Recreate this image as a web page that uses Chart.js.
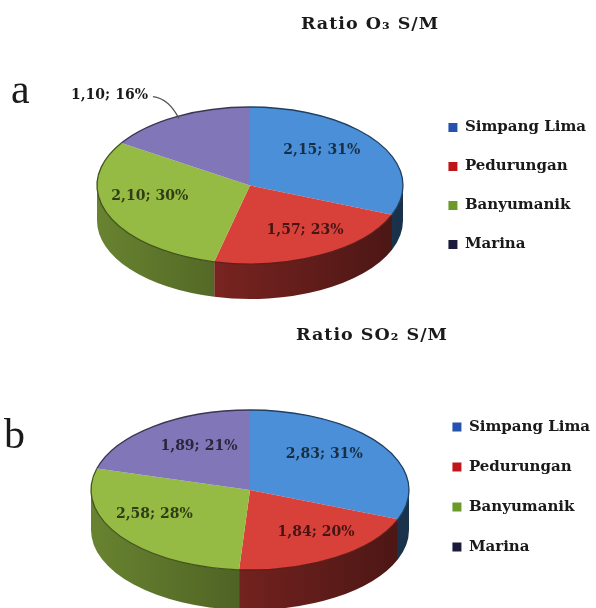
<!DOCTYPE html>
<html>
<head>
<meta charset="utf-8">
<script src="https://cdn.jsdelivr.net/npm/chart.js@4.4.1/dist/chart.umd.min.js"></script>
<style>
  html, body { margin: 0; padding: 0; background: #fff; width: 596px; height: 608px; overflow: hidden; }
  .panel { position: absolute; left: 0; width: 596px; }
  #panelA { top: 0; height: 305px; }
  #panelB { top: 305px; height: 303px; }
</style>
</head>
<body>
<div class="panel" id="panelA"><canvas id="chartA"></canvas></div>
<div class="panel" id="panelB"><canvas id="chartB"></canvas></div>
<script>
// Sampling sites and S/M ratios for each pollutant
const stations = ['Simpang Lima', 'Pedurungan', 'Banyumanik', 'Marina'];
const ratioO3 = [2.15, 1.57, 2.10, 1.10];
const ratioSO2 = [2.83, 1.84, 2.58, 1.89];

const sliceColors = ['#4a8fd8', '#d8403a', '#95bb44', '#8177b8'];
const legendColors = ['#2552ae', '#c0161a', '#6c9a28', '#1c1a3c'];

const SERIF = '"DejaVu Serif", "Liberation Serif", serif';

function rgbOf(hex) {
  const n = parseInt(hex.slice(1), 16);
  return [(n >> 16) & 255, (n >> 8) & 255, n & 255];
}
function shade(hex, f) {
  const [r, g, b] = rgbOf(hex);
  return `rgb(${Math.round(r * f)},${Math.round(g * f)},${Math.round(b * f)})`;
}
function fmt(v, total) {
  return v.toFixed(2).replace('.', ',') + '; ' + Math.round(v / total * 100) + '%';
}

// Tilted pie: walls drawn under the slices, slices squashed into an ellipse,
// then rim, value labels, title and panel letter drawn on top.
const pie3d = {
  id: 'pie3d',
  beforeDatasetsDraw(chart, args, o) {
    const ctx = chart.ctx;
    const arcs = chart.getDatasetMeta(0).data;
    const colors = chart.data.datasets[0].backgroundColor;
    const { tx, ty, rx, ry, depth } = o;

    arcs.forEach((arc, i) => {
      const s = Math.max(arc.startAngle, 0);
      const e = Math.min(arc.endAngle, Math.PI);
      if (e <= s) return;
      const g = ctx.createLinearGradient(tx - rx, 0, tx + rx, 0);
      g.addColorStop(0, shade(colors[i], 0.7));
      g.addColorStop(0.5, shade(colors[i], 0.52));
      g.addColorStop(1, shade(colors[i], 0.34));
      ctx.beginPath();
      ctx.ellipse(tx, ty, rx, ry, 0, s, e, false);
      ctx.lineTo(tx + rx * Math.cos(e), ty + depth + ry * Math.sin(e));
      ctx.ellipse(tx, ty + depth, rx, ry, 0, e, s, true);
      ctx.closePath();
      ctx.fillStyle = g;
      ctx.fill();
    });

    const { x: cx, y: cy, outerRadius: R } = arcs[0];
    ctx.save();
    ctx.translate(tx, ty);
    ctx.scale(rx / R, ry / R);
    ctx.translate(-cx, -cy);
  },
  afterDatasetsDraw(chart, args, o) {
    const ctx = chart.ctx;
    ctx.restore();
    const arcs = chart.getDatasetMeta(0).data;
    const ds = chart.data.datasets[0];
    const colors = ds.backgroundColor;
    const total = ds.data.reduce((a, b) => a + b, 0);
    const { tx, ty, rx, ry } = o;

    // rim of the top face
    arcs.forEach((arc, i) => {
      ctx.beginPath();
      ctx.ellipse(tx, ty, rx, ry, 0, arc.startAngle, arc.endAngle, false);
      ctx.strokeStyle = shade(colors[i], 0.45);
      ctx.lineWidth = 1.3;
      ctx.stroke();
    });

    // value labels; labels in the near half sit a little further out (perspective)
    ctx.font = 'bold 14px ' + SERIF;
    ctx.textBaseline = 'middle';
    arcs.forEach((arc, i) => {
      const mid = (arc.startAngle + arc.endAngle) / 2;
      const txt = fmt(ds.data[i], total);
      if ((o.outside || []).includes(i)) {
        const ex = tx + 0.97 * rx * Math.cos(mid), ey = ty + 0.97 * ry * Math.sin(mid);
        const lx = ex - 26, ly = ey - 22;
        ctx.beginPath();
        ctx.moveTo(ex, ey);
        ctx.quadraticCurveTo(ex - 10, ly + 2, lx, ly);
        ctx.strokeStyle = '#555';
        ctx.lineWidth = 1.3;
        ctx.stroke();
        ctx.fillStyle = '#1a1a1a';
        ctx.textAlign = 'right';
        ctx.fillText(txt, lx - 5, ly - 1);
      } else {
        const k = 0.65 + 0.15 * Math.sin(mid);
        ctx.fillStyle = shade(colors[i], 0.32);
        ctx.textAlign = 'center';
        ctx.fillText(txt, tx + k * rx * Math.cos(mid), ty - 10 + k * ry * Math.sin(mid));
      }
    });
  },
  afterDraw(chart, args, o) {
    const ctx = chart.ctx;
    ctx.save();
    ctx.fillStyle = '#1a1a1a';
    ctx.textBaseline = 'alphabetic';
    ctx.textAlign = 'center';
    ctx.font = 'bold 17.5px ' + SERIF;
    ctx.letterSpacing = '1px';
    ctx.fillText(o.title, o.titleX, o.titleY);
    ctx.letterSpacing = '0px';
    ctx.textAlign = 'left';
    ctx.font = '42px "Liberation Serif", serif';
    ctx.fillText(o.letter, o.letterX, o.letterY);
    ctx.restore();
  }
};

function legendLabels(chart) {
  const items = Chart.overrides.pie.plugins.legend.labels.generateLabels(chart);
  items.forEach((it, i) => {
    it.fillStyle = legendColors[i];
    it.strokeStyle = legendColors[i];
    it.lineWidth = 0;
  });
  return items;
}

function makePie(id, values, padding, spacing, shape) {
  return new Chart(document.getElementById(id), {
    type: 'pie',
    data: {
      labels: stations,
      datasets: [{ data: values, backgroundColor: sliceColors, borderWidth: 0, clip: false }]
    },
    options: {
      responsive: true,
      maintainAspectRatio: false,
      animation: false,
      layout: { padding },
      plugins: {
        tooltip: { enabled: false },
        legend: {
          position: 'right',
          labels: {
            boxWidth: 9,
            boxHeight: 9,
            padding: spacing,
            color: '#1a1a1a',
            font: { family: SERIF, size: 15, weight: 'bold' },
            generateLabels: legendLabels
          }
        },
        pie3d: shape
      }
    },
    plugins: [pie3d]
  });
}

makePie('chartA', ratioO3, { top: 77, bottom: 10, left: 0, right: 0 }, 24, {
  tx: 250, ty: 185.5, rx: 153, ry: 78.5, depth: 35, outside: [3],
  title: 'Ratio O\u2083 S/M', titleX: 370, titleY: 29,
  letter: 'a', letterX: 11, letterY: 103
});

makePie('chartB', ratioSO2, { top: 71, bottom: 10, left: 0, right: -4 }, 25, {
  tx: 250, ty: 185, rx: 159, ry: 80, depth: 40, outside: [],
  title: 'Ratio SO\u2082 S/M', titleX: 372, titleY: 35,
  letter: 'b', letterX: 4, letterY: 143
});
</script>
</body>
</html>
